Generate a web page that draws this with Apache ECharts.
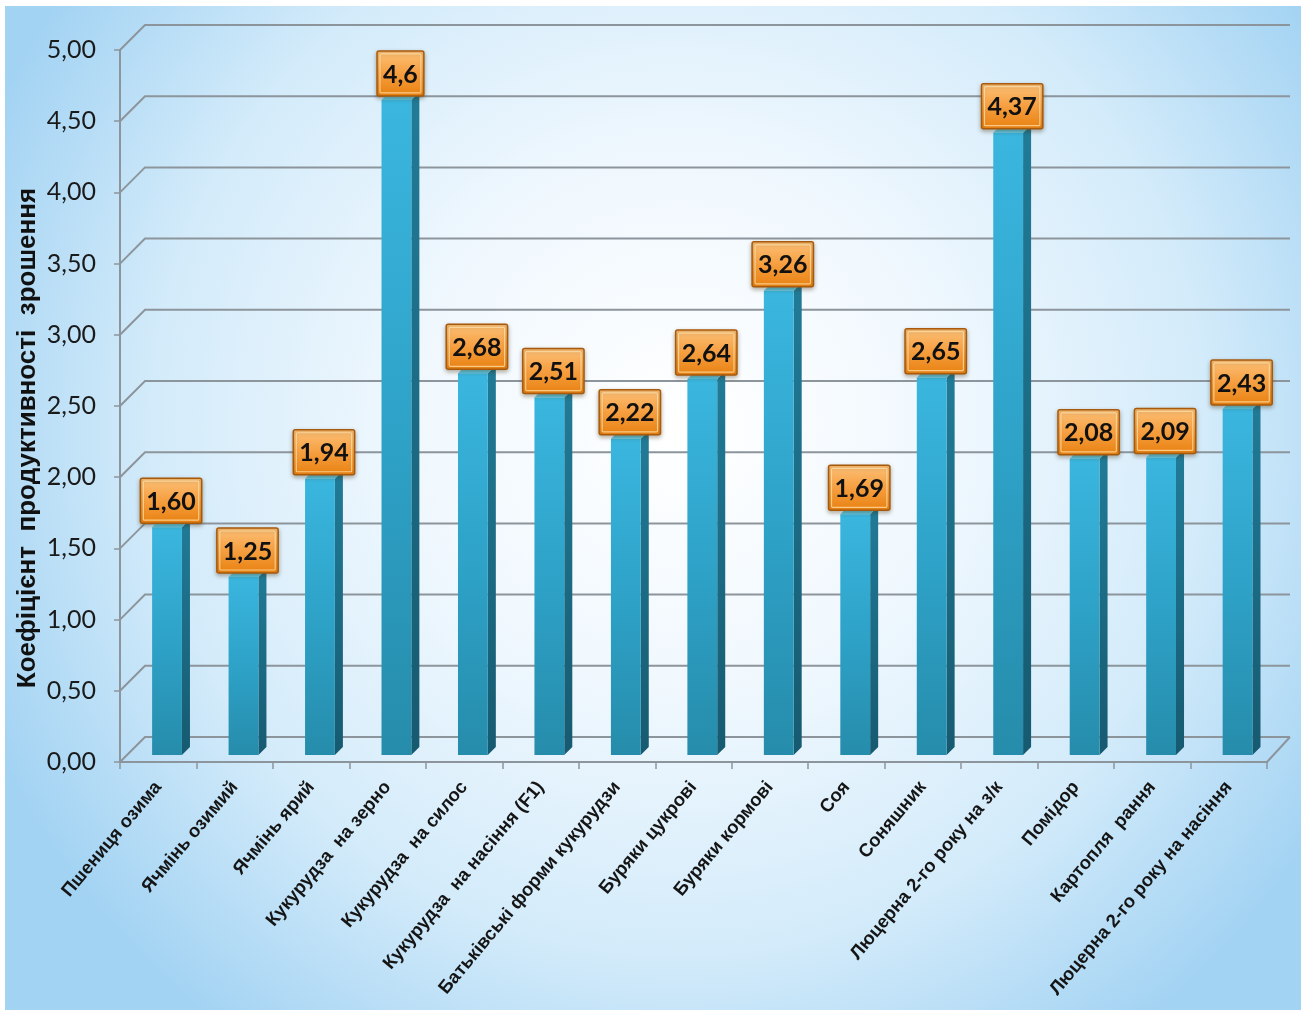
<!DOCTYPE html>
<html>
<head>
<meta charset="utf-8">
<title>Коефіцієнт продуктивності зрошення</title>
<script src="https://cdn.jsdelivr.net/npm/echarts@6/dist/echarts.min.js"></script>
<style>
  html, body { margin: 0; padding: 0; background: #ffffff; }
  #chart { width: 1301px; height: 1010px; }
</style>
</head>
<body>
<div id="chart"></div>
<script>
// Crops and their irrigation productivity coefficients
const categories = [
  'Пшениця озима',
  'Ячмінь озимий',
  'Ячмінь ярий',
  'Кукурудза  на зерно',
  'Кукурудза  на силос',
  'Кукурудза  на насіння (F1)',
  'Батьківські форми кукурудзи',
  'Буряки цукрові',
  'Буряки кормові',
  'Соя',
  'Соняшник',
  'Люцерна 2-го року на з/к',
  'Помідор',
  'Картопля  рання',
  'Люцерна 2-го року на насіння'
];
const values = [1.60, 1.25, 1.94, 4.6, 2.68, 2.51, 2.22, 2.64, 3.26, 1.69, 2.65, 4.37, 2.08, 2.09, 2.43];
const valueLabels = ['1,60', '1,25', '1,94', '4,6', '2,68', '2,51', '2,22', '2,64', '3,26', '1,69', '2,65', '4,37', '2,08', '2,09', '2,43'];
const yTicks = [0, 0.5, 1, 1.5, 2, 2.5, 3, 3.5, 4, 4.5, 5];
const yAxisTitle = 'Коефіцієнт  продуктивності  зрошення';

const chart = echarts.init(document.getElementById('chart'));

// depth of the pseudo-3D box (back wall offset)
const DEPTH = 25;
const GRID_COLOR = '#8d959c';
const LABEL_FONT = 'bold 25px Lato';

const measureCtx = document.createElement('canvas').getContext('2d');
function textWidth(str, font) {
  measureCtx.font = font;
  return measureCtx.measureText(str).width;
}

// geometry of a bar's front face relative to its category
function barGeom(api, idx, val) {
  const base = api.coord([idx, 0]);
  const top = api.coord([idx, val]);
  const band = api.size([1, 0])[0];
  const lift = 7;
  const fx0 = base[0] - band * 0.08;
  const fw = band * 0.39;
  const d = band * 0.105;
  return { fx0, fw, d, yb: base[1] - lift, yt: top[1] - lift };
}

// back wall gridlines with the diagonal over the left side wall
function renderGrid(params, api) {
  const cs = params.coordSys;
  const y = api.coord([0, api.value(1)])[1];
  const x0 = cs.x, x1 = cs.x + cs.width;
  const children = [{
    type: 'polyline',
    shape: { points: [[x0, y], [x0 + DEPTH, y - DEPTH], [x1 + DEPTH - 2, y - DEPTH]] },
    style: { stroke: GRID_COLOR, lineWidth: 2, fill: null }
  }];
  if (params.dataIndex === 0) {
    // right edge of the floor
    children.push({
      type: 'line',
      shape: { x1: x1, y1: y, x2: x1 + DEPTH - 2, y2: y - DEPTH },
      style: { stroke: GRID_COLOR, lineWidth: 2 }
    });
  }
  return { type: 'group', children };
}

function renderBar(params, api) {
  const g = barGeom(api, api.value(0), api.value(1));
  const { fx0, fw, d, yb, yt } = g;
  const fx1 = fx0 + fw;
  return {
    type: 'group',
    children: [
      {
        type: 'polygon',
        shape: { points: [[fx1, yt], [fx1 + d, yt - d], [fx1 + d, yb - d], [fx1, yb]] },
        style: {
          fill: new echarts.graphic.LinearGradient(0, 0, 0, 1, [
            { offset: 0, color: '#217b97' },
            { offset: 1, color: '#165a70' }
          ])
        }
      },
      {
        type: 'polygon',
        shape: { points: [[fx0, yt], [fx0 + d, yt - d], [fx1 + d, yt - d], [fx1, yt]] },
        style: { fill: '#5fcbe9' }
      },
      {
        type: 'rect',
        shape: { x: fx0, y: yt, width: fw, height: yb - yt },
        style: {
          fill: new echarts.graphic.LinearGradient(0, 0, 0, 1, [
            { offset: 0, color: '#3ab6df' },
            { offset: 0.55, color: '#2da0c5' },
            { offset: 1, color: '#268cab' }
          ])
        }
      }
    ]
  };
}

function renderLabel(params, api) {
  const idx = api.value(0);
  const g = barGeom(api, idx, api.value(1));
  const text = valueLabels[idx];
  const w = textWidth(text, LABEL_FONT) + 12;
  const h = 45;
  const cx = g.fx0 + (g.fw + g.d) / 2;
  const bottom = g.yt - 4;
  const top = bottom - h;
  return {
    type: 'group',
    children: [
      {
        type: 'rect',
        shape: { x: cx - w / 2, y: top, width: w, height: h, r: 2 },
        style: {
          fill: new echarts.graphic.LinearGradient(0, 0, 0, 1, [
            { offset: 0, color: '#fcc27a' },
            { offset: 0.45, color: '#f7a245' },
            { offset: 1, color: '#e8800f' }
          ]),
          stroke: '#a85a0c',
          lineWidth: 1.5,
          shadowBlur: 4,
          shadowOffsetY: 2,
          shadowColor: 'rgba(60,40,0,0.35)'
        }
      },
      {
        type: 'rect',
        shape: { x: cx - w / 2 + 3, y: top + 3, width: w - 6, height: h - 6, r: 1 },
        style: { fill: null, stroke: 'rgba(255,225,170,0.75)', lineWidth: 1.2 }
      },
      {
        type: 'text',
        style: {
          text: text,
          x: cx,
          y: top + h / 2 + 1,
          align: 'center',
          verticalAlign: 'middle',
          font: LABEL_FONT,
          fill: '#111111'
        }
      }
    ]
  };
}

const option = {
  backgroundColor: '#ffffff',
  animation: false,
  graphic: [
    {
      type: 'rect',
      z: -10,
      silent: true,
      shape: { x: 5, y: 6, width: 1296, height: 1004 },
      style: {
        fill: new echarts.graphic.RadialGradient(0.52, 0.42, 0.75, [
          { offset: 0, color: '#ffffff' },
          { offset: 0.35, color: '#f0f8fe' },
          { offset: 0.7, color: '#d3ebfa' },
          { offset: 1, color: '#a3d3f3' }
        ])
      }
    },
    {
      type: 'text',
      x: 28,
      y: 438,
      rotation: Math.PI / 2,
      style: {
        text: yAxisTitle,
        align: 'center',
        verticalAlign: 'middle',
        font: 'bold 26px "Liberation Sans", Arial, sans-serif',
        fill: '#111111'
      }
    }
  ],
  grid: { left: 120, right: 34, top: 50, bottom: 248 },
  xAxis: {
    type: 'category',
    data: categories,
    axisLine: { show: true, lineStyle: { color: GRID_COLOR, width: 2 } },
    axisTick: { show: true, length: 7, lineStyle: { color: GRID_COLOR, width: 1.5 } },
    axisLabel: {
      interval: 0,
      rotate: 50,
      margin: 22,
      fontFamily: '"Liberation Sans", Arial, sans-serif',
      fontWeight: 'bold',
      fontSize: 18.5,
      color: '#151515'
    },
    splitLine: { show: false }
  },
  yAxis: {
    type: 'value',
    min: 0,
    max: 5,
    interval: 0.5,
    axisLine: { show: true, lineStyle: { color: GRID_COLOR, width: 2 } },
    axisTick: { show: true, length: 6, lineStyle: { color: GRID_COLOR, width: 1.5 } },
    axisLabel: {
      margin: 24,
      fontFamily: 'Lato',
      fontSize: 25,
      color: '#1a1a1a',
      formatter: v => v.toFixed(2).replace('.', ',')
    },
    splitLine: { show: false }
  },
  series: [
    {
      type: 'custom',
      name: 'grid',
      z: 1,
      silent: true,
      renderItem: renderGrid,
      data: yTicks.map(v => [0, v])
    },
    {
      type: 'custom',
      name: 'bars',
      z: 3,
      renderItem: renderBar,
      data: values.map((v, i) => [i, v])
    },
    {
      type: 'custom',
      name: 'labels',
      z: 5,
      renderItem: renderLabel,
      data: values.map((v, i) => [i, v])
    }
  ]
};

chart.setOption(option);
</script>
</body>
</html>
